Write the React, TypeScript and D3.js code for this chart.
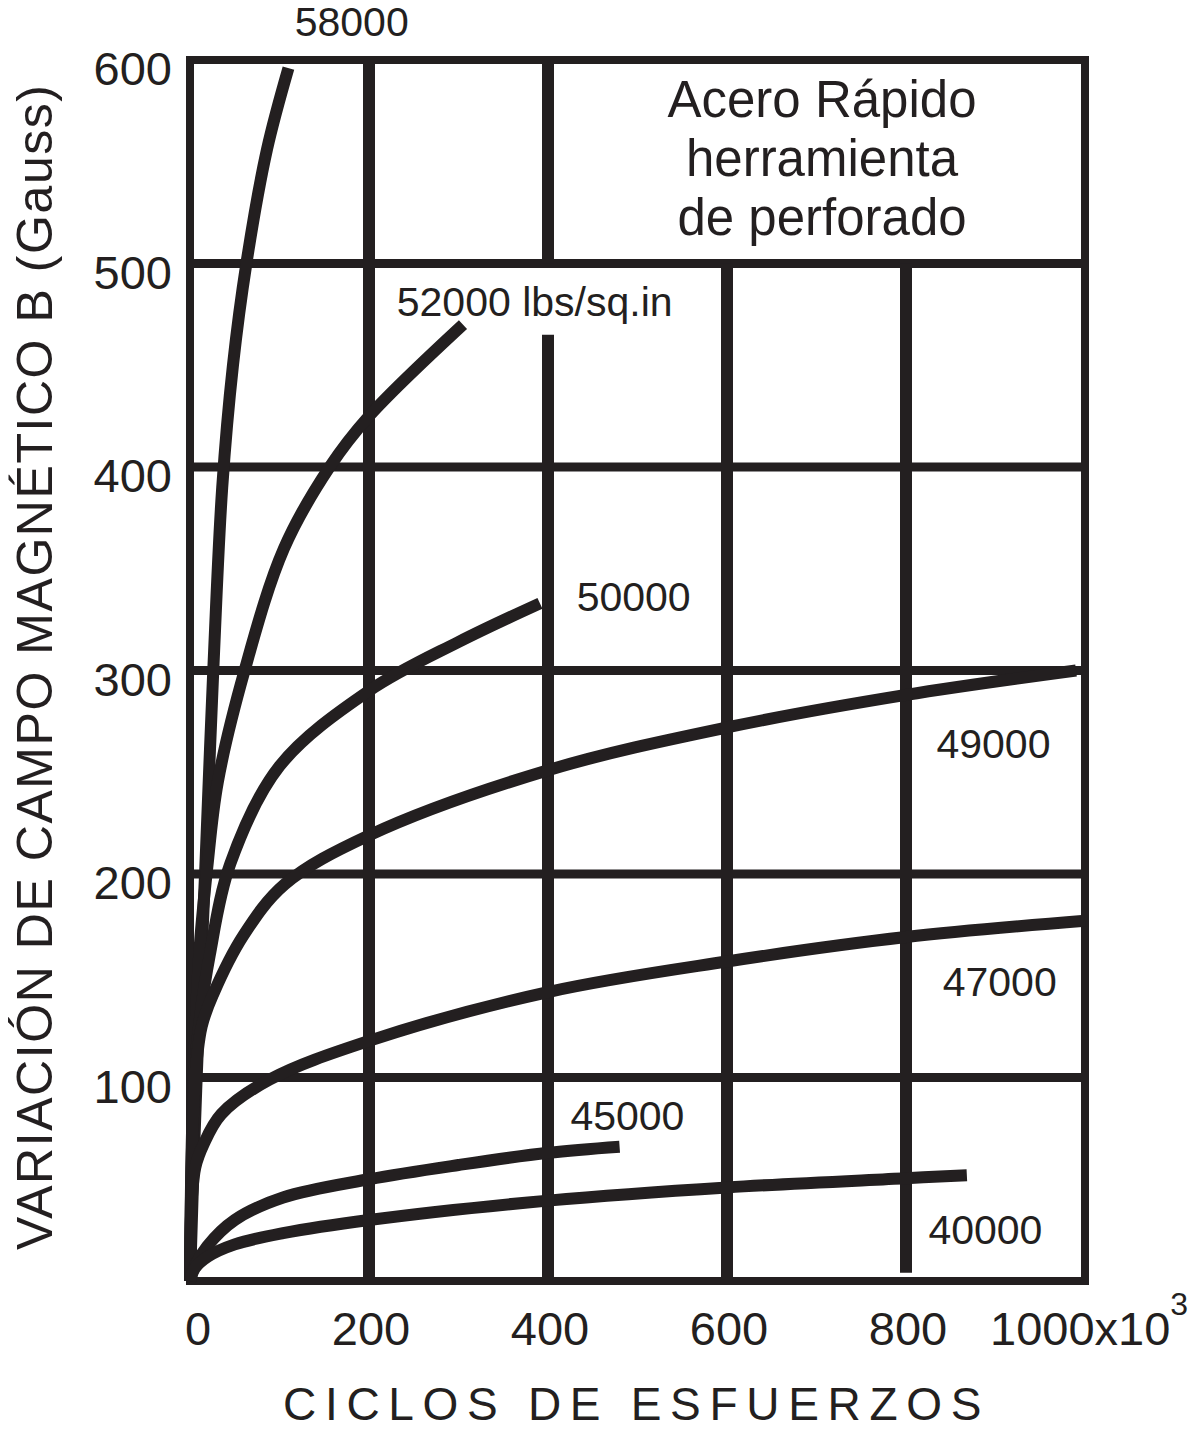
import React from "react";
import * as d3 from "d3";

// x: ciclos (x10^3), y: B (Gauss)
const xTicks = [0, 200, 400, 600, 800];
const yTicks = [100, 200, 300, 400, 500, 600];

const s58000 = [[0, 0], [5, 70], [11, 140], [17, 202], [26, 300], [36, 390], [48, 450], [63, 500], [86, 556], [110, 596]];
const s52000 = [[0, 0], [5, 110], [11, 165], [19, 202], [31, 245], [61, 300], [105, 360], [156, 400], [200, 425], [305, 470]];
const s50000 = [[0, 0], [4, 95], [10, 125], [22, 160], [45, 205], [100, 253], [200, 290], [300, 314], [391, 333]];
const s49000 = [[0, 0], [5, 95], [13, 125], [26, 141], [60, 170], [106, 195], [200, 219], [400, 251], [600, 272], [800, 288], [990, 300]];
const s47000 = [[0, 0], [2, 40], [6, 56], [15, 67], [35, 82], [89, 99], [200, 118], [400, 142], [600, 157], [800, 169], [1000, 177]];
const s45000 = [[0, 0], [5, 7], [19, 17], [50, 30], [104, 41], [200, 50], [300, 57], [400, 63], [480, 66]];
const s40000 = [[0, 0], [5, 6], [20, 12], [50, 18], [104, 23.5], [200, 30], [400, 39.5], [600, 46], [800, 50.5], [868, 52]];

const series = [s58000, s52000, s50000, s49000, s47000, s45000, s40000];
const seriesLabels = ["58000", "52000 lbs/sq.in", "50000", "49000", "47000", "45000", "40000"];
// where each label sits, in data units [x, y]
const labelAt = [[117, 612], [231, 474], [432, 329], [834, 257], [841, 140], [425, 74], [825, 18]];

const titleLines = ["Acero Rápido", "herramienta", "de perforado"];
const xTitle = "CICLOS DE ESFUERZOS";
const yTitle = "VARIACIÓN DE CAMPO MAGNÉTICO B (Gauss)";

// vertical grid segments [x, y0, y1] (the top right corner holds the title box)
const vGrid = [
  [200, 0, 600],
  [400, 0, 465],
  [400, 500, 600],
  [600, 0, 500],
  [800, 4, 500],
];

const ink = "#231f20";
const font = "'Liberation Sans', Arial, sans-serif";

const App = () => {
  const width = 1198;
  const height = 1430;

  const x = d3.scaleLinear().domain([0, 1000]).range([190, 1085]);
  const y = d3.scaleLinear().domain([0, 600]).range([1281, 60]);

  const line = d3
    .line<number[]>()
    .x((d) => x(d[0]))
    .y((d) => y(d[1]))
    .curve(d3.curveCatmullRom.alpha(0.5));

  return (
    <svg
      width={width}
      height={height}
      style={{ position: "absolute", left: 0, top: 0, background: "#fff" }}
      fontFamily={font}
      fill={ink}
    >
      {/* grid */}
      {yTicks.slice(0, -1).map((t) => (
        <line key={"h" + t} x1={x(0)} x2={x(1000)} y1={y(t)} y2={y(t)} stroke={ink} strokeWidth={9} />
      ))}
      {vGrid.map((g, i) => (
        <line key={"v" + i} x1={x(g[0])} x2={x(g[0])} y1={y(g[1])} y2={y(g[2])} stroke={ink} strokeWidth={12} />
      ))}
      <rect
        x={x(0)}
        y={y(600)}
        width={x(1000) - x(0)}
        height={y(0) - y(600)}
        fill="none"
        stroke={ink}
        strokeWidth={8}
      />

      {/* curves */}
      {series.map((s, i) => (
        <path key={"s" + i} d={line(s) || ""} fill="none" stroke={ink} strokeWidth={12} strokeLinecap="butt" />
      ))}

      {/* curve labels */}
      {seriesLabels.map((l, i) => (
        <text key={"l" + i} x={x(labelAt[i][0])} y={y(labelAt[i][1])} fontSize={41}>
          {l}
        </text>
      ))}

      {/* title box text */}
      {titleLines.map((t, i) => (
        <text key={"t" + i} x={822} y={117 + i * 59} fontSize={51} textAnchor="middle">
          {t}
        </text>
      ))}

      {/* y ticks */}
      {yTicks.map((t) => (
        <text key={"yt" + t} x={172} y={y(t) + 25} fontSize={47} textAnchor="end">
          {t}
        </text>
      ))}

      {/* x ticks */}
      {xTicks.map((t) => (
        <text key={"xt" + t} x={x(t) + (t === 0 ? 8 : 2)} y={1345} fontSize={47} textAnchor="middle">
          {t}
        </text>
      ))}
      <text x={990} y={1345} fontSize={47}>
        1000x10
        <tspan dy={-30} fontSize={32}>
          3
        </tspan>
      </text>

      {/* axis titles */}
      <text x={283} y={1420} fontSize={46} letterSpacing={8.7}>
        {xTitle}
      </text>
      <text
        transform={`translate(52, 1250) rotate(-90)`}
        fontSize={50}
        textLength={1165}
        lengthAdjust="spacing"
      >
        {yTitle}
      </text>
    </svg>
  );
};

export default App;
